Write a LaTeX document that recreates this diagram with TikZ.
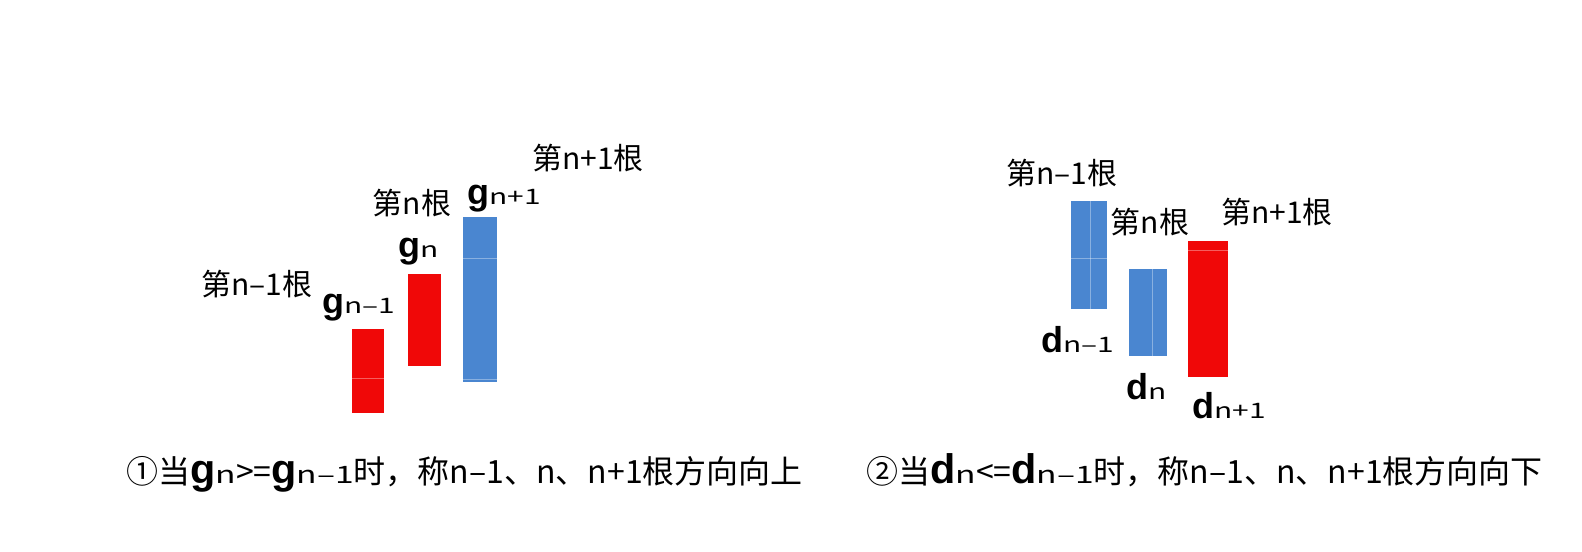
\documentclass[tikz,border=0pt]{standalone}
\usepackage{fontspec}
\setmainfont{Noto Sans CJK SC}
\newfontfamily\symfont{Liberation Sans}
\newfontfamily\idxfont{Noto Sans CJK SC}[FakeStretch=1.4]
\usetikzlibrary{positioning}

\definecolor{barred}{RGB}{240,8,8}
\definecolor{barblue}{RGB}{74,134,208}

% big bold letter with its small index
\newcommand{\lblsym}[2]{{\symfont\bfseries\fontsize{27}{28}\selectfont #1}{\idxfont\fontsize{16}{17}\selectfont #2}}
\newcommand{\capsym}[2]{{\symfont\bfseries\fontsize{31}{32}\selectfont #1}{\idxfont\fontsize{18}{19}\selectfont #2}}

\begin{document}
\begin{tikzpicture}[
			x=0.75pt, y=-0.75pt,
			redbar/.style={fill=barred},
			bluebar/.style={fill=barblue},
			seam/.style={draw=white, opacity=0.35, line width=0.5pt},
			rootlbl/.style={inner sep=0pt, font=\fontsize{22.5}{24}\selectfont},
			symlbl/.style={inner sep=0pt, anchor=base west},
			caption/.style={inner sep=0pt, anchor=base west, font=\fontsize{24}{26}\selectfont}
			]
			\useasboundingbox (0,0) rectangle (1582,551);
			
			% Left group: three bars going up
			\fill[redbar] (352,329) rectangle (384,413);
			\fill[redbar] (408,274) rectangle (441,366);
			\fill[bluebar] (463,217) rectangle (497,382);
			\draw[seam] (352,378) -- (384,378);
			\draw[seam] (463,258) -- (497,258);
			\draw[seam] (463,379) -- (497,379);
			
			% Left labels
			\node[rootlbl] (up1) at (257,284) {第n–1根};
			\node[rootlbl] (up2) at (412,203) {第n根};
			\node[rootlbl] (up3) at (588,158) {第n+1根};
			\node[symlbl] (g1) at (322,313) {\lblsym{g}{n–1}};
			\node[symlbl] (g2) at (398,257) {\lblsym{g}{n}};
			\node[symlbl] (g3) at (467,204) {\lblsym{g}{n+1}};
			
			% Right group: three bars going down
			\fill[bluebar] (1071,201) rectangle (1107,309);
			\fill[bluebar] (1129,269) rectangle (1167,356);
			\fill[redbar] (1188,241) rectangle (1228,377);
			\draw[seam] (1071,258) -- (1107,258);
			\draw[seam] (1090,201) -- (1090,309);
			\draw[seam] (1152,269) -- (1152,356);
			\draw[seam] (1188,250) -- (1228,250);
			
			% Right labels
			\node[rootlbl] (dn1) at (1062,173) {第n–1根};
			\node[rootlbl] (dn2) at (1150,222) {第n根};
			\node[rootlbl] (dn3) at (1277,212) {第n+1根};
			\node[symlbl] (d1) at (1041,352) {\lblsym{d}{n–1}};
			\node[symlbl] (d2) at (1126,399) {\lblsym{d}{n}};
			\node[symlbl] (d3) at (1192,418) {\lblsym{d}{n+1}};
			
			% Captions
			\node[caption] (capup) at (126,483) {①当\capsym{g}{n}>=\capsym{g}{n–1}时，称n–1、n、n+1根方向向上};
			\node[caption] (capdn) at (866,483) {②当\capsym{d}{n}<=\capsym{d}{n–1}时，称n–1、n、n+1根方向向下};
			
		\end{tikzpicture}
\end{document}
